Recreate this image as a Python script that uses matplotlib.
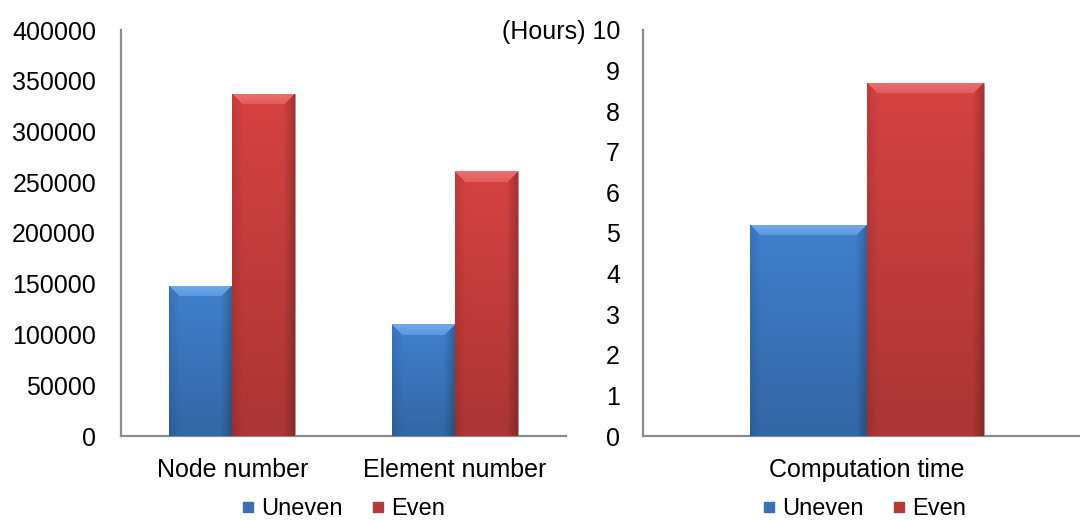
import numpy as np
import matplotlib
matplotlib.use("Agg")
import matplotlib.pyplot as plt
from matplotlib.lines import Line2D

# ---- data ----
count_categories = ["Node number", "Element number"]
count_uneven = [148000, 110000]
count_even = [337000, 261000]
count_ticks = [0, 50000, 100000, 150000, 200000, 250000, 300000, 350000, 400000]

time_categories = ["Computation time"]
time_uneven = [5.2]
time_even = [8.7]
time_ticks = list(range(0, 11))

series_names = ["Uneven", "Even"]

plt.rcParams["font.family"] = ["Liberation Sans", "DejaVu Sans"]

W, H = 1080, 521
fig = plt.figure(figsize=(W / 100, H / 100), dpi=100)

BLUE = np.array([64, 128, 206]) / 255
BLUE_TOP = np.array([112, 170, 236]) / 255
RED = np.array([214, 66, 66]) / 255
RED_TOP = np.array([236, 112, 112]) / 255
SPINE = "#8c8c8c"
FS = 18


def shaded(base, top, w, h, bevel):
    """RGB array giving a bevelled, top-lit look to a bar of w x h pixels."""
    w = max(int(round(w)), 2)
    h = max(int(round(h)), 2)
    y = np.arange(h)[:, None] * np.ones((1, w))
    x = np.ones((h, 1)) * np.arange(w)[None, :]
    dl, dr, dt = x, w - 1 - x, y
    f = 1.0 - 0.20 * (y / h)
    img = base[None, None, :] * f[..., None]
    # darker right rim, slightly darker left rim
    rr = np.clip(1 - dr / bevel, 0, 1)
    ll = np.clip(1 - dl / bevel, 0, 1)
    img = img * (1 - 0.22 * rr[..., None]) * (1 - 0.10 * ll[..., None])
    # lighter top bevel
    topmask = (dt < bevel) & (dt <= dl) & (dt <= dr)
    g = 1 - 0.45 * (dt / bevel)
    topcol = top[None, None, :] * g[..., None] + base[None, None, :] * (1 - g[..., None])
    img = np.where(topmask[..., None], topcol, img)
    return np.clip(img, 0, 1)


def draw_bars(ax, xs, vals, width, base, top):
    bars = ax.bar(xs, vals, width, color=base, edgecolor=(0.45, 0.45, 0.45, 0.35),
                  linewidth=0.8, zorder=2)
    to_px = ax.transData
    for b in bars:
        x0, y0 = b.get_x(), b.get_y()
        x1, y1 = x0 + b.get_width(), y0 + b.get_height()
        (px0, py0), (px1, py1) = to_px.transform([(x0, y0), (x1, y1)])
        img = shaded(base, top, abs(px1 - px0), abs(py1 - py0), 11)
        im = ax.imshow(img, extent=(x0, x1, y0, y1), aspect="auto",
                       interpolation="bilinear", zorder=3, origin="upper")
        im.set_clip_path(b)
    return bars


def style_axes(ax, ypad):
    for s in ("top", "right"):
        ax.spines[s].set_visible(False)
    for s in ("left", "bottom"):
        ax.spines[s].set_color(SPINE)
        ax.spines[s].set_linewidth(1.6)
    ax.tick_params(axis="both", length=0, labelsize=FS, colors="black")
    ax.tick_params(axis="y", pad=ypad)
    ax.tick_params(axis="x", pad=16)


def legend_for(xc):
    handles = [Line2D([], [], marker="s", linestyle="none", markersize=7,
                      markerfacecolor=c, markeredgecolor=c)
               for c in ("#3a6fb5", "#b53a3a")]
    fig.legend(handles, series_names, loc="center", ncol=2,
               bbox_to_anchor=(xc / W, 1 - 509 / H), frameon=False,
               fontsize=17, handlelength=0.6, handletextpad=0.25,
               columnspacing=1.2, borderpad=0)


# ---- left panel: node and element counts ----
ax1 = fig.add_axes([121 / W, (H - 436) / H, 445 / W, 406 / H])
ax1.set_xlim(-0.5, len(count_categories) - 0.5)
ax1.set_ylim(0, 400000)
bw = 0.283
pos = np.arange(len(count_categories))
draw_bars(ax1, pos - bw / 2, count_uneven, bw, BLUE, BLUE_TOP)
draw_bars(ax1, pos + bw / 2, count_even, bw, RED, RED_TOP)
ax1.set_xticks(pos)
ax1.set_xticklabels(count_categories)
ax1.set_yticks(count_ticks)
ax1.set_yticklabels([str(t) for t in count_ticks])
style_axes(ax1, 18)
legend_for(343)

# ---- right panel: computation time ----
ax2 = fig.add_axes([643 / W, (H - 436) / H, 437 / W, 406 / H])
ax2.set_xlim(-0.5, 0.475)
ax2.set_ylim(0, 10)
bw2 = 0.261
pos2 = np.arange(len(time_categories))
draw_bars(ax2, pos2 - bw2 / 2, time_uneven, bw2, BLUE, BLUE_TOP)
draw_bars(ax2, pos2 + bw2 / 2, time_even, bw2, RED, RED_TOP)
ax2.set_xticks(pos2)
ax2.set_xticklabels(time_categories)
ax2.set_yticks(time_ticks)
ax2.set_yticklabels([str(t) if t < 10 else "(Hours) 10" for t in time_ticks])
style_axes(ax2, 16.5)
legend_for(864)

fig.savefig("out.png", dpi=100)
